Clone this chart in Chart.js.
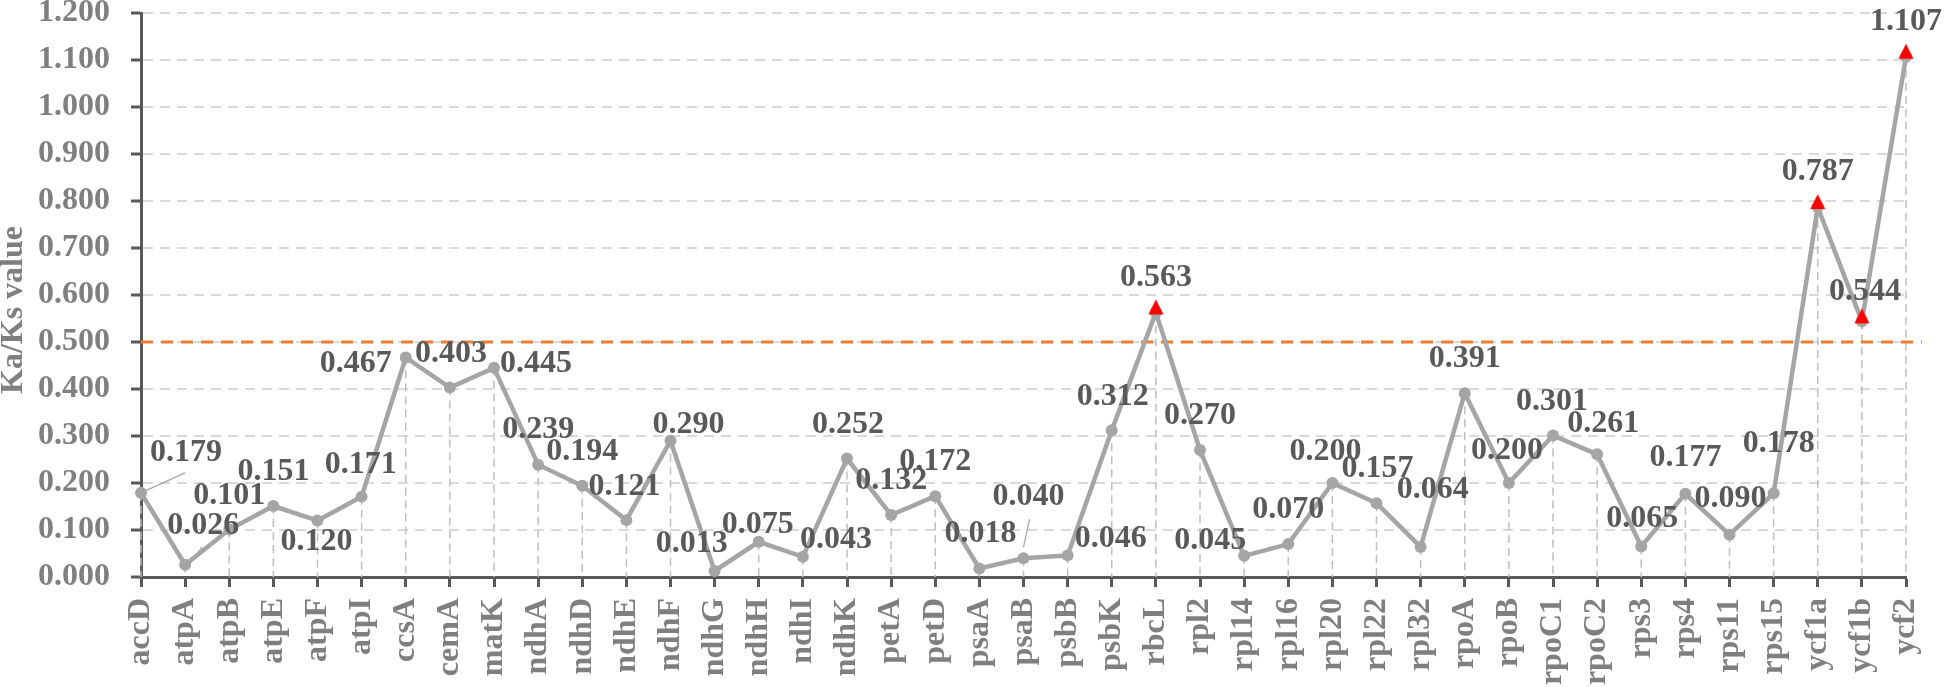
<!DOCTYPE html>
<html>
<head>
<meta charset="utf-8">
<script src="https://cdn.jsdelivr.net/npm/chart.js@4/dist/chart.umd.min.js"></script>
<style>
html,body{margin:0;padding:0;background:#ffffff;}
#wrap{width:1944px;height:687px;position:relative;}
</style>
</head>
<body>
<div id="wrap"><canvas id="c"></canvas></div>
<script>
// ---- data ----
const genes = ['accD','atpA','atpB','atpE','atpF','atpI','ccsA','cemA','matK','ndhA','ndhD','ndhE','ndhF','ndhG','ndhH','ndhI','ndhK','petA','petD','psaA','psaB','psbB','psbK','rbcL','rpl2','rpl14','rpl16','rpl20','rpl22','rpl32','rpoA','rpoB','rpoC1','rpoC2','rps3','rps4','rps11','rps15','ycf1a','ycf1b','ycf2'];
const kaksValues = [0.179,0.026,0.101,0.151,0.120,0.171,0.467,0.403,0.445,0.239,0.194,0.121,0.290,0.013,0.075,0.043,0.252,0.132,0.172,0.018,0.040,0.046,0.312,0.563,0.270,0.045,0.070,0.200,0.157,0.064,0.391,0.200,0.301,0.261,0.065,0.177,0.090,0.178,0.787,0.544,1.107];
const yMin = 0, yMax = 1.2, yStep = 0.1;
const threshold = 0.5;
const yAxisTitle = 'Ka/Ks value';

// ---- label placement (style, px offsets from each point) ----
const labelOffsets = [[45,-40],[18,-39],[0,-34],[0,-34],[-1,21],[-1,-32],[-50,6],[1,-34],[42,-4],[0,-35],
  [0,-34],[-2,-33],[18,-16],[-23,-27],[-1,-17],[33,-17],[1,-34],[0,-34],[0,-34],[1,-35],
  [5,-61],[43,-17],[1,-34],[0,-35],[0,-34],[-34,-15],[0,-34],[-7,-31],[1,-34],[12,-57],
  [0,-34],[-2,-32],[-1,-34],[6,-31],[1,-28],[0,-36],[1,-36],[5,-50],[0,-35],[3,-30],[0,-35]];
const leaderLines = {0:[2,-1,44,-20], 1:[10,-8,17,-18], 20:[0,-11,6,-39]};

const FONT = "'Liberation Serif','Times New Roman',serif";
const AXIS_COLOR = '#595959';
const TICK_TEXT = '#7f7f7f';

// red triangle marker sitting on top of the point
const triMarker = document.createElement('canvas');
triMarker.width = 16; triMarker.height = 28;
(function(){
  const t = triMarker.getContext('2d');
  t.fillStyle = '#ff0000';
  t.beginPath(); t.moveTo(8, 1); t.lineTo(15.5, 16); t.lineTo(0.5, 16); t.closePath(); t.fill();
})();

const dropLinesPlugin = {
  id:'dropLines',
  beforeDatasetsDraw(chart){
    const ctx = chart.ctx, meta = chart.getDatasetMeta(1), ca = chart.chartArea;
    ctx.save();
    ctx.strokeStyle = '#bfbfbf'; ctx.lineWidth = 1.5; ctx.setLineDash([8,5]);
    meta.data.forEach(pt => { ctx.beginPath(); ctx.moveTo(pt.x, pt.y); ctx.lineTo(pt.x, ca.bottom); ctx.stroke(); });
    const y = chart.scales.y.getPixelForValue(threshold);
    ctx.strokeStyle = '#ed7d31'; ctx.lineWidth = 3; ctx.setLineDash([12,8]);
    ctx.beginPath(); ctx.moveTo(ca.left, y); ctx.lineTo(ca.right + 16, y); ctx.stroke();
    ctx.restore();
  }
};

const valueLabelsPlugin = {
  id:'valueLabels',
  afterDatasetsDraw(chart){
    const ctx = chart.ctx, meta = chart.getDatasetMeta(1);
    ctx.save();
    ctx.strokeStyle = '#a6a6a6'; ctx.lineWidth = 1.2;
    Object.keys(leaderLines).forEach(k => {
      const pt = meta.data[k], l = leaderLines[k];
      ctx.beginPath(); ctx.moveTo(pt.x + l[0], pt.y + l[1]); ctx.lineTo(pt.x + l[2], pt.y + l[3]); ctx.stroke();
    });
    ctx.font = 'bold 32px ' + FONT;
    ctx.fillStyle = '#595959';
    ctx.textAlign = 'center'; ctx.textBaseline = 'middle';
    meta.data.forEach((pt, i) => {
      const o = labelOffsets[i];
      ctx.fillText(kaksValues[i].toFixed(3), pt.x + o[0], pt.y + o[1]);
    });
    ctx.restore();
  }
};

const yTitlePlugin = {
  id:'yTitle',
  afterDraw(chart){
    const ctx = chart.ctx, ca = chart.chartArea;
    ctx.save();
    ctx.translate(14, (ca.top + ca.bottom) / 2 + 15);
    ctx.rotate(-Math.PI / 2);
    ctx.font = 'bold 32px ' + FONT;
    ctx.fillStyle = TICK_TEXT;
    ctx.textAlign = 'center'; ctx.textBaseline = 'middle';
    ctx.fillText(yAxisTitle, 0, 0);
    ctx.restore();
  }
};

new Chart(document.getElementById('c'), {
  type:'line',
  data:{
    labels:genes,
    datasets:[
      {label:'above threshold', data:kaksValues.map(v => v > threshold ? v : null), showLine:false,
       pointStyle:triMarker, pointRadius:9, order:0},
      {label:'Ka/Ks', data:kaksValues, borderColor:'#a5a5a5', borderWidth:4.5, pointRadius:6,
       pointBackgroundColor:'#a5a5a5', pointBorderWidth:0, tension:0, order:1}
    ]
  },
  options:{
    responsive:true, maintainAspectRatio:false, animation:false, devicePixelRatio:1, events:[],
    layout:{padding:{top:13,right:38,bottom:0,left:0}},
    plugins:{legend:{display:false}, tooltip:{enabled:false}},
    scales:{
      x:{
        type:'category', offset:false,
        grid:{drawOnChartArea:false, drawTicks:true, tickLength:10, tickColor:AXIS_COLOR, tickWidth:3},
        border:{display:true, color:AXIS_COLOR, width:3},
        ticks:{autoSkip:false, maxRotation:90, minRotation:90, padding:11, color:TICK_TEXT,
               font:{family:FONT, size:32, weight:'bold'}},
        afterFit(s){ s.height = 110; s.paddingLeft = 0; s.paddingRight = 0; }
      },
      y:{
        min:yMin, max:yMax,
        ticks:{stepSize:yStep, padding:21, color:TICK_TEXT, font:{family:FONT, size:32, weight:'bold'},
               callback:v => Number(v).toFixed(3)},
        grid:{color:'#d9d9d9', lineWidth:2, tickColor:AXIS_COLOR, tickWidth:3, tickLength:10, tickBorderDash:[]},
        border:{display:true, color:AXIS_COLOR, width:3, dash:[10,7]},
        afterFit(s){ s.width = 141; s.paddingTop = 0; s.paddingBottom = 0; }
      }
    }
  },
  plugins:[dropLinesPlugin, valueLabelsPlugin, yTitlePlugin]
});
</script>
</body>
</html>
